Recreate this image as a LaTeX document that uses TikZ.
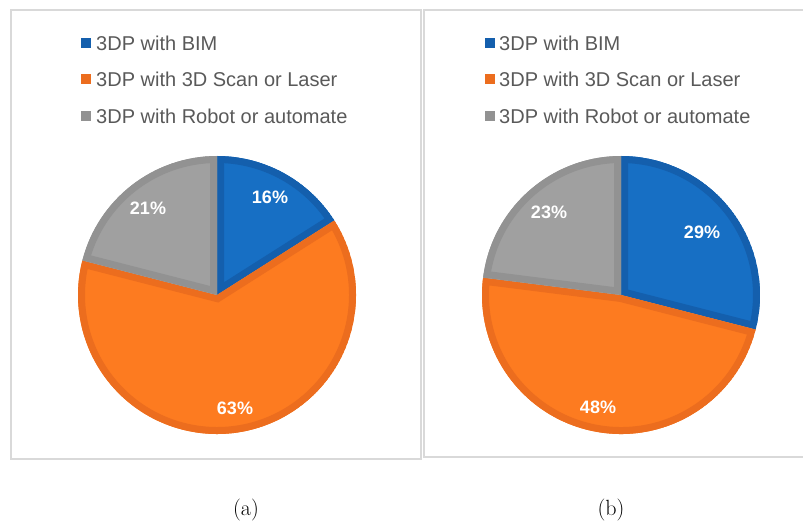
\documentclass[tikz,border=0pt]{standalone}
\usepackage{fontspec}
\setmainfont{Latin Modern Roman}
\newfontfamily\legfont{Liberation Sans}
\newfontfamily\pctfont{Liberation Sans}
\definecolor{blueF}{HTML}{176FC4}
\definecolor{blueB}{HTML}{145FAD}
\definecolor{orangeF}{HTML}{FD7B20}
\definecolor{orangeB}{HTML}{EC6D1E}
\definecolor{grayF}{HTML}{A0A0A0}
\definecolor{grayB}{HTML}{929292}
\definecolor{legtext}{HTML}{595959}
\definecolor{frame}{HTML}{D9D9D9}
\newcommand\myslice[5]{%
  \begin{scope}
    \clip (#1) -- ++(#2:139) arc[start angle=#2,end angle=#3,radius=139] -- cycle;
    \fill[#4] (#1) -- ++(#2:139) arc[start angle=#2,end angle=#3,radius=139] -- cycle;
    \draw[#5,line width=14pt,line join=miter] (#1) -- ++(#2:139) arc[start angle=#2,end angle=#3,radius=139] -- cycle;
  \end{scope}}
\tikzset{
  panel/.style={draw=frame,line width=1.5pt},
  legsq/.style={minimum size=10pt,inner sep=0pt},
  legtxt/.style={anchor=west,inner sep=0pt,text=legtext,font=\legfont\fontsize{20}{22}\selectfont},
  pct/.style={text=white,font=\pctfont\bfseries\fontsize{18}{20}\selectfont,inner sep=0pt},
  captxt/.style={font=\rmfamily\fontsize{22}{26}\selectfont,inner sep=0pt}
}
\begin{document}
\begin{tikzpicture}[x=1pt,y=1pt]
\useasboundingbox (0,0) rectangle (803,523);
% panels
\draw[panel] (11,513) rectangle (421,64);
\draw[panel] (815,513) -- (424,513) -- (424,66) -- (815,66);
% pie (a)
\coordinate (pa) at (217,228);
\myslice{pa}{90}{32.4}{blueF}{blueB}
\myslice{pa}{32.4}{-194.4}{orangeF}{orangeB}
\myslice{pa}{165.6}{90}{grayF}{grayB}
\node[pct] (a16) at (270,326) {16\%};
\node[pct] (a21) at (148,315) {21\%};
\node[pct] (a63) at (235,115) {63\%};
% pie (b)
\coordinate (pb) at (621,228);
\myslice{pb}{90}{-14.4}{blueF}{blueB}
\myslice{pb}{-14.4}{-187.2}{orangeF}{orangeB}
\myslice{pb}{172.8}{90}{grayF}{grayB}
\node[pct] (b29) at (702,291) {29\%};
\node[pct] (b23) at (549,311) {23\%};
\node[pct] (b48) at (598,116) {48\%};
% legend (a)
\node[legsq,fill=blueB] (la1) at (86,480) {};
\node[legsq,fill=orangeB] (la2) at (86,444) {};
\node[legsq,fill=grayB] (la3) at (86,407) {};
\node[legtxt] (ta1) at (96,480) {3DP with BIM};
\node[legtxt] (ta2) at (96,444) {3DP with 3D Scan or Laser};
\node[legtxt] (ta3) at (96,407) {3DP with Robot or automate};
% legend (b)
\node[legsq,fill=blueB] (lb1) at (490,480) {};
\node[legsq,fill=orangeB] (lb2) at (490,444) {};
\node[legsq,fill=grayB] (lb3) at (490,407) {};
\node[legtxt] (tb1) at (499,480) {3DP with BIM};
\node[legtxt] (tb2) at (499,444) {3DP with 3D Scan or Laser};
\node[legtxt] (tb3) at (499,407) {3DP with Robot or automate};
% captions
\node[captxt] (capa) at (246,13) {(a)};
\node[captxt] (capb) at (611,13) {(b)};
\end{tikzpicture}
\end{document}
